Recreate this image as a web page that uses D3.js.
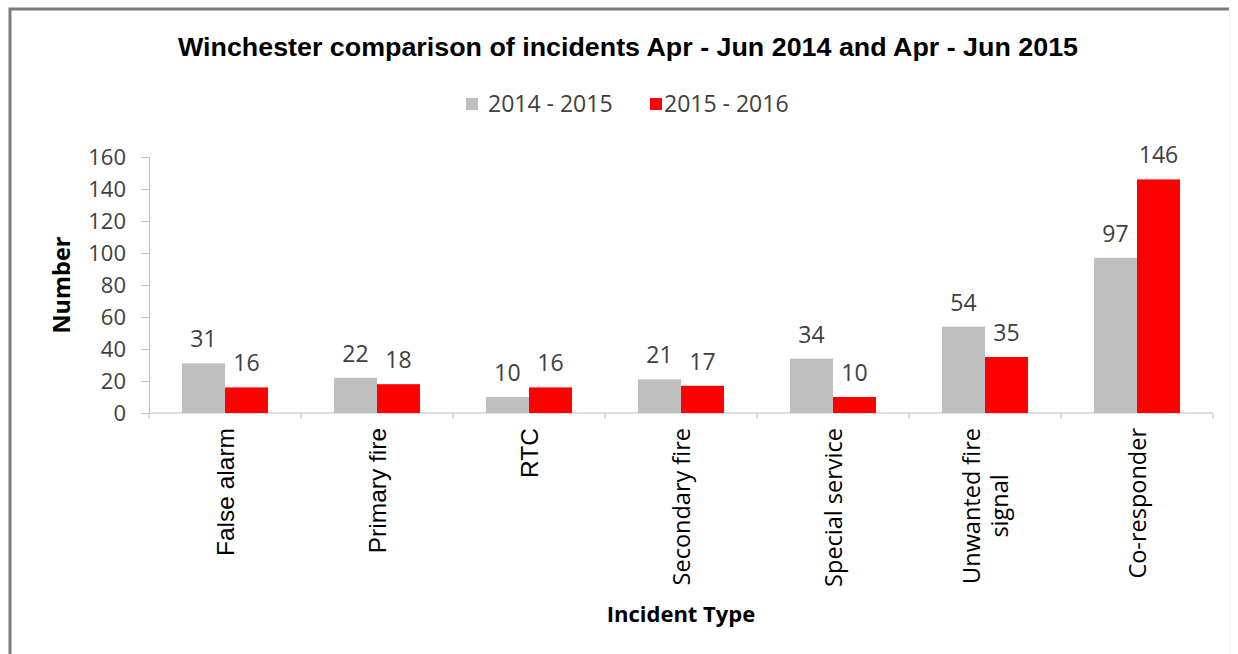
<!DOCTYPE html>
<head>
    <meta charset="utf-8">
    <script src="https://cdn.jsdelivr.net/npm/d3@7"></script>
    <style type="text/css">
        body {
            margin: 0;
            background: #fff;
        }
        #chart svg {
            display: block;
        }
        .val, .tick text {
            font-family: "Open Sans", sans-serif;
            fill: #404040;
        }
    </style>
</head>
<body>
    <div id="chart"></div>
</body>
</html>

<script type="text/javascript">
    // data
    var categories = ["False alarm", "Primary fire", "RTC", "Secondary fire",
                      "Special service", "Unwanted fire signal", "Co-responder"];
    var seriesNames = ["2014 - 2015", "2015 - 2016"];
    var values2014 = [31, 22, 10, 21, 34, 54, 97];
    var values2015 = [16, 18, 16, 17, 10, 35, 146];
    var yTicks = [0, 20, 40, 60, 80, 100, 120, 140, 160];
    var colors = ["#bfbfbf", "#ff0000"];

    var width = 1238, height = 654;
    var margin = {top: 157, right: 25, bottom: 241, left: 149};
    var plotW = width - margin.left - margin.right,
        plotH = height - margin.top - margin.bottom;

    var svg = d3.select("#chart").append("svg")
        .attr("width", width)
        .attr("height", height);

    // frame of the pasted chart
    svg.append("path")
        .attr("d", "M10.5," + height + "V9.5H1229.5V" + height)
        .attr("fill", "none")
        .attr("stroke", "#f2f2f2")
        .attr("stroke-width", 1);
    svg.append("path")
        .attr("d", "M10," + height + "V9H1229")
        .attr("fill", "none")
        .attr("stroke", "#7a7a7a")
        .attr("stroke-width", 3);

    // title
    svg.append("text")
        .attr("x", 628)
        .attr("y", 56)
        .attr("text-anchor", "middle")
        .attr("textLength", 900)
        .attr("lengthAdjust", "spacingAndGlyphs")
        .style("font-family", "'Liberation Sans Narrow', 'Liberation Sans', Arial, sans-serif")
        .style("font-weight", "bold")
        .style("font-size", "25px")
        .style("fill", "#000")
        .text("Winchester comparison of incidents Apr - Jun 2014 and Apr - Jun 2015");

    // legend
    var legend = svg.append("g").attr("transform", "translate(466, 98)");
    var legX = [0, 184];
    seriesNames.forEach(function(s, i) {
        var g = legend.append("g").attr("transform", "translate(" + legX[i] + ",0)");
        g.append("rect")
            .attr("width", 12)
            .attr("height", 12)
            .attr("fill", colors[i]);
        g.append("text")
            .attr("class", "val")
            .attr("x", i == 0 ? 22 : 14)
            .attr("y", 14)
            .style("font-size", "23px")
            .text(s);
    });

    var plot = svg.append("g")
        .attr("transform", "translate(" + margin.left + "," + margin.top + ")");

    var x0 = d3.scaleBand()
        .domain(categories)
        .range([0, plotW]);

    // Excel-ish gap width: bars take the middle ~57% of each category
    var x1 = d3.scaleBand()
        .domain(seriesNames)
        .range([x0.bandwidth() * 0.217, x0.bandwidth() * 0.783]);

    var y = d3.scaleLinear()
        .domain([0, 160])
        .range([plotH, 0]);

    // y axis
    var yAxis = plot.append("g")
        .call(d3.axisLeft(y).tickValues(yTicks).tickSize(8).tickPadding(15));
    yAxis.selectAll("path, line").attr("stroke", "#bfbfbf");
    yAxis.selectAll("text").style("font-size", "22px");

    // x axis, ticks on the category boundaries
    var xAxis = plot.append("g")
        .attr("transform", "translate(0," + plotH + ")");
    xAxis.append("line")
        .attr("x1", 0).attr("x2", plotW)
        .attr("stroke", "#bfbfbf");
    var bounds = categories.map(function(c) { return x0(c); }).concat([plotW]);
    xAxis.selectAll(".xt")
        .data(bounds)
        .enter().append("line")
        .attr("class", "xt")
        .attr("x1", function(d) { return d; })
        .attr("x2", function(d) { return d; })
        .attr("y1", 0).attr("y2", 6)
        .attr("stroke", "#bfbfbf");

    // bars
    var rows = categories.map(function(c, i) {
        return {cat: c, vals: [values2014[i], values2015[i]]};
    });

    var groups = plot.selectAll(".grp")
        .data(rows)
        .enter().append("g")
        .attr("class", "grp")
        .attr("transform", function(d) { return "translate(" + x0(d.cat) + ",0)"; });

    groups.selectAll("rect")
        .data(function(d) { return d.vals.map(function(v, i) { return {s: seriesNames[i], v: v, i: i}; }); })
        .enter().append("rect")
        .attr("x", function(d) { return x1(d.s); })
        .attr("y", function(d) { return y(d.v); })
        .attr("width", x1.bandwidth())
        .attr("height", function(d) { return plotH - y(d.v); })
        .attr("fill", function(d) { return colors[d.i]; });

    groups.selectAll(".val")
        .data(function(d) { return d.vals.map(function(v, i) { return {s: seriesNames[i], v: v}; }); })
        .enter().append("text")
        .attr("class", "val")
        .attr("x", function(d) { return x1(d.s) + x1.bandwidth() / 2; })
        .attr("y", function(d) { return y(d.v) - 16; })
        .attr("text-anchor", "middle")
        .style("font-size", "23px")
        .text(function(d) { return d.v; });

    // category labels, rotated, wrapped when too long
    function wrapLines(label, maxLen, sizer) {
        var words = label.split(" "), lines = [], cur = "";
        words.forEach(function(w) {
            var test = cur ? cur + " " + w : w;
            sizer.text(test);
            if (cur && sizer.node().getComputedTextLength() > maxLen) {
                lines.push(cur);
                cur = w;
            } else {
                cur = test;
            }
        });
        lines.push(cur);
        return lines;
    }

    var labelTop = plotH + 15;
    categories.forEach(function(c, i) {
        var font = i < 3 ? "'Liberation Sans', Arial, sans-serif" : "'Open Sans', sans-serif";
        var size = i < 3 ? "24.5px" : "23.5px";
        var cx = x0(c) + x0.bandwidth() / 2;
        var sizer = plot.append("text")
            .style("font-family", font)
            .style("font-size", size);
        var lines = wrapLines(c, 180, sizer);
        var maxLen = 0;
        lines.forEach(function(l) {
            sizer.text(l);
            maxLen = Math.max(maxLen, sizer.node().getComputedTextLength());
        });
        sizer.remove();
        var lineH = 28;
        lines.forEach(function(l, k) {
            var dx = (k - (lines.length - 1) / 2) * lineH;
            plot.append("text")
                .attr("transform", "translate(" + (cx + dx + 9) + "," + (labelTop + maxLen / 2) + ") rotate(-90)")
                .attr("text-anchor", "middle")
                .style("font-family", font)
                .style("font-size", size)
                .style("fill", "#000")
                .text(l);
        });
    });

    // axis titles
    svg.append("text")
        .attr("transform", "translate(70," + (margin.top + plotH / 2) + ") rotate(-90)")
        .attr("text-anchor", "middle")
        .style("font-family", "'Open Sans', sans-serif")
        .style("font-weight", "bold")
        .style("font-size", "23.5px")
        .style("fill", "#000")
        .text("Number");

    svg.append("text")
        .attr("x", margin.left + plotW / 2)
        .attr("y", 622)
        .attr("text-anchor", "middle")
        .style("font-family", "'Open Sans', sans-serif")
        .style("font-weight", "bold")
        .style("font-size", "22px")
        .style("fill", "#000")
        .text("Incident Type");
</script>
